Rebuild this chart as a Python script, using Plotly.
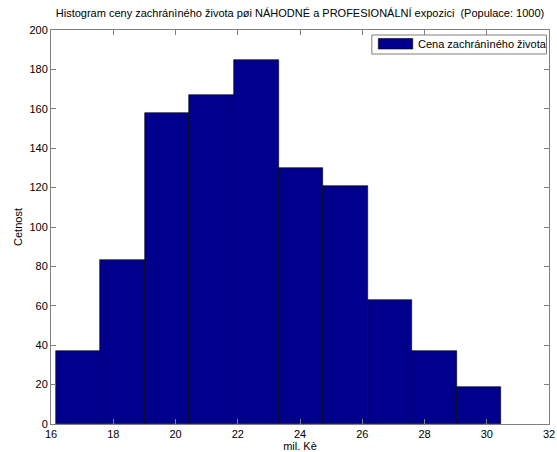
import plotly.graph_objects as go

# Data
bin_start = 16.15
bin_width = 1.432
counts = [37, 83, 158, 167, 185, 130, 121, 63, 37, 19]
series_name = "Cena zachránìného života"
title_text = "Histogram ceny zachránìného života pøi NÁHODNÉ a PROFESIONÁLNÍ expozici  (Populace: 1000)"
x_label = "mil. Kè"
y_label = "Cetnost"

centers = [bin_start + bin_width * (i + 0.5) for i in range(len(counts))]

W, H = 557, 452
ml, mr, mt, mb = 50.5, 7.5, 30, 28
font = "Liberation Sans, Arial, sans-serif"
fill = "#00008C"

fig = go.Figure()
fig.add_trace(go.Bar(
    x=centers, y=counts, width=[bin_width] * len(counts),
    marker=dict(color=fill, line=dict(color="#000000", width=0.6)),
    name=series_name, showlegend=False,
))

axis_common = dict(
    showline=True, linecolor="#7f7f7f", linewidth=1, mirror="allticks",
    ticks="inside", ticklen=5, tickcolor="#7f7f7f", showgrid=False, zeroline=False,
    tickfont=dict(family=font, size=11, color="#000"), automargin=False,
)
fig.update_xaxes(range=[16, 32], tickvals=list(range(16, 33, 2)),
                 title=dict(text=x_label, font=dict(family=font, size=11, color="#000"), standoff=0),
                 **axis_common)
fig.update_yaxes(range=[0, 200], tickvals=list(range(0, 201, 20)),
                 title=dict(text=y_label, font=dict(family=font, size=11, color="#000"), standoff=4),
                 **axis_common)

# manual legend (MATLAB style)
pw = W - ml - mr
ph = H - mt - mb
def px(x): return (x - ml) / pw
def py(y): return 1 - (y - mt) / ph
fig.add_shape(type="rect", xref="paper", yref="paper",
              x0=px(372), x1=px(547), y0=py(54), y1=py(35),
              line=dict(color="#7f7f7f", width=1), fillcolor="white")
fig.add_shape(type="rect", xref="paper", yref="paper",
              x0=px(378.5), x1=px(413), y0=py(49), y1=py(38.5),
              line=dict(color="#000", width=0.6), fillcolor=fill)
fig.add_annotation(text=series_name, xref="paper", yref="paper",
                   x=px(416), y=py(44), xanchor="left", yanchor="middle",
                   showarrow=False, font=dict(family=font, size=11, color="#000"))

fig.update_layout(
    width=W, height=H,
    margin=dict(l=ml, r=mr, t=mt, b=mb),
    paper_bgcolor="white", plot_bgcolor="white",
    bargap=0,
    title=dict(text=title_text, x=(ml + pw / 2) / W, xanchor="center",
               y=1 - 13 / H, yanchor="middle",
               font=dict(family=font, size=11, color="#000")),
    showlegend=False,
)

fig.write_html("out.html")
